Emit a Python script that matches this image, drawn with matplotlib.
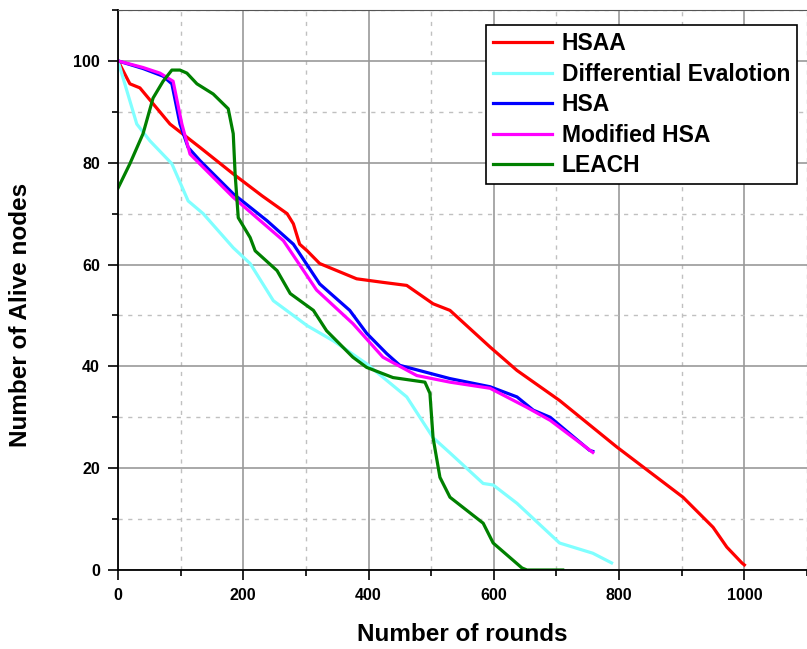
import matplotlib
matplotlib.use('Agg')
import matplotlib.pyplot as plt
from matplotlib.ticker import MultipleLocator

# values
hsaa_x = [0, 19, 35, 83, 131, 184, 230, 270, 280, 290, 302, 322, 381, 423, 461,
          503, 530, 594, 637, 705, 796, 902, 950, 972, 996, 1000]
hsaa_y = [100, 95.5, 94.7, 87.6, 83, 77.8, 73.5, 70, 68, 64, 62.7, 60.2, 57.2, 56.5, 55.9,
          52.3, 51, 43.8, 39.2, 33.3, 24.2, 14.3, 8.4, 4.5, 1.4, 1]

de_x = [0, 30, 51, 86, 112, 136, 184, 211, 248, 302, 344, 397, 461, 503, 530,
        583, 599, 637, 705, 758, 788]
de_y = [100, 87.6, 84.3, 79.8, 72.5, 70, 63.3, 60.2, 52.9, 48, 45, 40.5, 34, 26, 23,
        17, 16.7, 13.1, 5.3, 3.3, 1.4]

hsa_x = [0, 40, 72, 86, 99, 112, 131, 184, 238, 280, 322, 370, 397, 429, 450,
         530, 594, 637, 663, 690, 753, 758]
hsa_y = [100, 98.5, 97, 95.5, 87.6, 83, 80.4, 73.9, 68.6, 64, 56.2, 51, 46.5, 42.5, 40.2,
         37.6, 36, 34, 31.4, 30, 23.5, 23.3]

mhsa_x = [0, 40, 67, 88, 102, 115, 184, 264, 275, 317, 375, 423, 477, 530, 594,
          652, 690, 758]
mhsa_y = [100, 98.7, 97.6, 96, 87.6, 81.7, 73.2, 64.7, 62.7, 55, 48.4, 41.8, 38.2, 36.9, 35.7,
          32, 29.4, 23.1]

leach_x = [0, 19, 40, 56, 72, 86, 99, 110, 126, 152, 176, 184, 187, 192, 211, 219,
           254, 275, 312, 333, 375, 397, 439, 490, 498, 503, 514, 530, 583, 599,
           645, 653, 710]
leach_y = [75, 79.8, 85.7, 92.7, 96, 98.2, 98.2, 97.6, 95.5, 93.5, 90.6, 85.7, 77.8, 69.2, 65.3, 62.7,
           58.8, 54.3, 51, 47, 41.8, 39.8, 37.8, 36.9, 34.7, 26, 18.2, 14.3, 9.2, 5.3,
           0.4, 0, 0]

fonts = ['Liberation Sans', 'DejaVu Sans']

fig = plt.figure(figsize=(8.07, 6.49), dpi=100)
ax = fig.add_axes([0.1462, 0.1217, 0.8538, 0.8629])

lw = 2.3
ax.plot(hsaa_x, hsaa_y, color='#ff0000', lw=lw, label='HSAA')
ax.plot(de_x, de_y, color='#80ffff', lw=lw, label='Differential Evalotion')
ax.plot(hsa_x, hsa_y, color='#0000ff', lw=lw, label='HSA')
ax.plot(mhsa_x, mhsa_y, color='#ff00ff', lw=lw, label='Modified HSA')
ax.plot(leach_x, leach_y, color='#008000', lw=lw, label='LEACH')

ax.set_xlim(0, 1100)
ax.set_ylim(0, 110)
ax.xaxis.set_minor_locator(MultipleLocator(100))
ax.yaxis.set_minor_locator(MultipleLocator(10))
ax.set_xticks([0, 200, 400, 600, 800, 1000])
ax.set_yticks([0, 20, 40, 60, 80, 100])

ax.grid(which='major', color='#999999', lw=1.2, ls='-')
ax.grid(which='minor', color='#c0c0c0', lw=1.0, ls=(0, (3, 4)))
ax.set_axisbelow(True)

ax.spines['right'].set_visible(False)
ax.spines['top'].set_color('#555555')
ax.spines['left'].set_linewidth(1.3)
ax.spines['bottom'].set_linewidth(1.3)
ax.tick_params(which='major', direction='out', length=7, width=1.2, pad=6)
ax.tick_params(which='minor', direction='out', length=4, width=1.2)

for lab in ax.get_xticklabels() + ax.get_yticklabels():
    lab.set_family(fonts)
    lab.set_fontweight('bold')
    lab.set_fontsize(11.5)

ax.set_xlabel('Number of rounds', family=fonts, fontweight='bold', fontsize=17.5, labelpad=14)
ax.set_ylabel('Number of Alive nodes', family=fonts, fontweight='bold', fontsize=17.5)
ax.yaxis.set_label_coords(-0.125, 0.455)

leg = ax.legend(loc='upper left', bbox_to_anchor=(0.534, 0.973), frameon=True, fancybox=False,
                edgecolor='black', framealpha=1, borderaxespad=0, handlelength=2.6,
                handletextpad=0.4, labelspacing=0.33, borderpad=0.3,
                prop={'family': fonts, 'weight': 'bold', 'size': 16.5})
leg.get_frame().set_linewidth(1.2)

fig.savefig('out.png', dpi=100)
